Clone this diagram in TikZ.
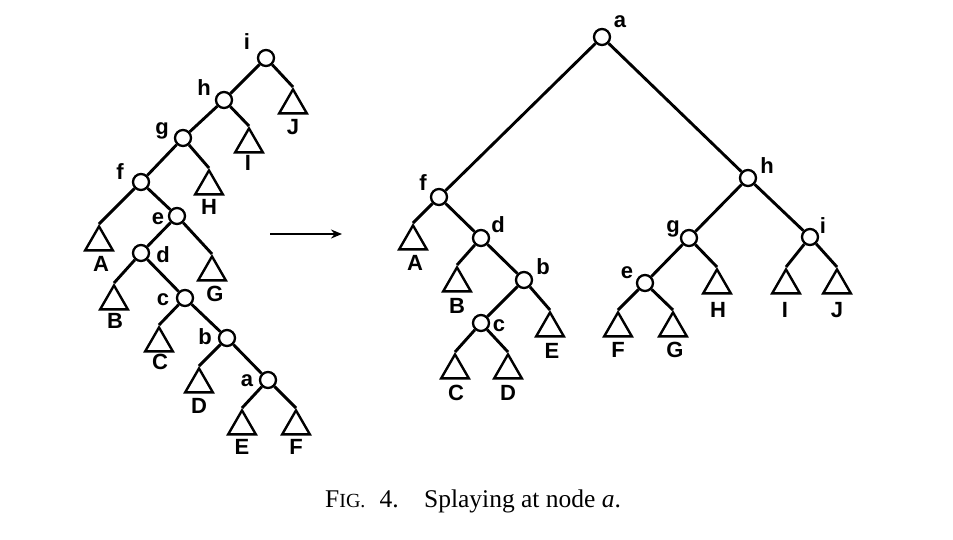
\documentclass[tikz,border=0pt]{standalone}
\usepackage{fontspec}
\setmainfont{Liberation Serif}
\newfontfamily\lblfont{Liberation Sans}
\usetikzlibrary{shapes.geometric,arrows.meta}
\begin{document}
\begin{tikzpicture}[x=1pt,y=-1pt,
  nd/.style={circle,draw,line width=2.3pt,minimum size=16pt,inner sep=0pt},
  tri/.style={regular polygon,regular polygon sides=3,draw,line width=2.4pt,minimum size=32pt,inner sep=0pt,anchor=corner 1},
  lbl/.style={font=\lblfont\bfseries\fontsize{22}{22}\selectfont,inner sep=0pt},
  edge/.style={line width=2.9pt},
]
\useasboundingbox (0,0) rectangle (953,539);

% ---------- left tree ----------
\node[nd] (Li) at (266,58) {};   \node[lbl] (Lli) at (247,42) {i};
\node[nd] (Lh) at (224,100) {};  \node[lbl] (Llh) at (204,88) {h};
\node[nd] (Lg) at (183,138) {};  \node[lbl] (Llg) at (162,131) {g};
\node[nd] (Lf) at (141,182) {};  \node[lbl] (Llf) at (120,172) {f};
\node[nd] (Le) at (177,216) {};  \node[lbl] (Lle) at (158,219) {e};
\node[nd] (Ld) at (141,253) {};  \node[lbl] (Lld) at (163,255) {d};
\node[nd] (Lc) at (185,298) {};  \node[lbl] (Llc) at (163,300) {c};
\node[nd] (Lb) at (227,338) {};  \node[lbl] (Llb) at (205,337) {b};
\node[nd] (La) at (268,380) {};  \node[lbl] (Lla) at (247,381) {a};

\node[tri] (LtJ) at (293,87) {};  \node[lbl] (LlJ) at (293,127) {J};
\node[tri] (LtI) at (249,126) {}; \node[lbl] (LlI) at (248,163) {I};
\node[tri] (LtH) at (209,168) {}; \node[lbl] (LlH) at (209,207) {H};
\node[tri] (LtA) at (99,224) {};  \node[lbl] (LlA) at (101,264) {A};
\node[tri] (LtG) at (212,254) {}; \node[lbl] (LlG) at (215,294) {G};
\node[tri] (LtB) at (114,283) {}; \node[lbl] (LlB) at (115,321) {B};
\node[tri] (LtC) at (159,325) {}; \node[lbl] (LlC) at (160,362) {C};
\node[tri] (LtD) at (199,366) {}; \node[lbl] (LlD) at (199,406) {D};
\node[tri] (LtE) at (242,408) {}; \node[lbl] (LlE) at (242,447) {E};
\node[tri] (LtF) at (296,408) {}; \node[lbl] (LlF) at (296,447) {F};

\draw[edge] (Li) -- (Lh);  \draw[edge] (Li) -- (LtJ.corner 1);
\draw[edge] (Lh) -- (Lg);  \draw[edge] (Lh) -- (LtI.corner 1);
\draw[edge] (Lg) -- (Lf);  \draw[edge] (Lg) -- (LtH.corner 1);
\draw[edge] (Lf) -- (LtA.corner 1); \draw[edge] (Lf) -- (Le);
\draw[edge] (Le) -- (Ld);  \draw[edge] (Le) -- (LtG.corner 1);
\draw[edge] (Ld) -- (LtB.corner 1); \draw[edge] (Ld) -- (Lc);
\draw[edge] (Lc) -- (LtC.corner 1); \draw[edge] (Lc) -- (Lb);
\draw[edge] (Lb) -- (LtD.corner 1); \draw[edge] (Lb) -- (La);
\draw[edge] (La) -- (LtE.corner 1); \draw[edge] (La) -- (LtF.corner 1);

% ---------- arrow ----------
\coordinate (arrS) at (270,234);
\coordinate (arrE) at (342,234);
\draw[line width=2.2pt,-{Stealth[length=11pt,width=9pt]}] (arrS) -- (arrE);

% ---------- right tree ----------
\node[nd] (Ra) at (602,37) {};   \node[lbl] (Rla) at (620,22) {a};
\node[nd] (Rf) at (439,197) {};  \node[lbl] (Rlf) at (423,183) {f};
\node[nd] (Rd) at (481,238) {};  \node[lbl] (Rld) at (498,225) {d};
\node[nd] (Rb) at (524,280) {};  \node[lbl] (Rlb) at (543,267) {b};
\node[nd] (Rc) at (481,323) {};  \node[lbl] (Rlc) at (499,326) {c};
\node[nd] (Rh) at (748,178) {};  \node[lbl] (Rlh) at (767,166) {h};
\node[nd] (Rg) at (689,238) {};  \node[lbl] (Rlg) at (673,229) {g};
\node[nd] (Ri) at (810,237) {};  \node[lbl] (Rli) at (823,226) {i};
\node[nd] (Re) at (645,283) {};  \node[lbl] (Rle) at (627,273) {e};

\node[tri] (RtA) at (413,223) {}; \node[lbl] (RlA) at (415,263) {A};
\node[tri] (RtB) at (457,265) {}; \node[lbl] (RlB) at (457,306) {B};
\node[tri] (RtE) at (550,310) {}; \node[lbl] (RlE) at (552,351) {E};
\node[tri] (RtC) at (455,352) {}; \node[lbl] (RlC) at (456,393) {C};
\node[tri] (RtD) at (508,352) {}; \node[lbl] (RlD) at (508,393) {D};
\node[tri] (RtF) at (618,310) {}; \node[lbl] (RlF) at (618,350) {F};
\node[tri] (RtG) at (673,310) {}; \node[lbl] (RlG) at (675,350) {G};
\node[tri] (RtH) at (717,267) {}; \node[lbl] (RlH) at (718,310) {H};
\node[tri] (RtI) at (786,267) {}; \node[lbl] (RlI) at (785,310) {I};
\node[tri] (RtJ) at (837,267) {}; \node[lbl] (RlJ) at (837,310) {J};

\draw[edge] (Ra) -- (Rf);  \draw[edge] (Ra) -- (Rh);
\draw[edge] (Rf) -- (RtA.corner 1); \draw[edge] (Rf) -- (Rd);
\draw[edge] (Rd) -- (RtB.corner 1); \draw[edge] (Rd) -- (Rb);
\draw[edge] (Rb) -- (Rc);  \draw[edge] (Rb) -- (RtE.corner 1);
\draw[edge] (Rc) -- (RtC.corner 1); \draw[edge] (Rc) -- (RtD.corner 1);
\draw[edge] (Rh) -- (Rg);  \draw[edge] (Rh) -- (Ri);
\draw[edge] (Rg) -- (Re);  \draw[edge] (Rg) -- (RtH.corner 1);
\draw[edge] (Re) -- (RtF.corner 1); \draw[edge] (Re) -- (RtG.corner 1);
\draw[edge] (Ri) -- (RtI.corner 1); \draw[edge] (Ri) -- (RtJ.corner 1);

% ---------- caption ----------
\node[anchor=base west,inner sep=0pt,font=\fontsize{25.5}{25.5}\selectfont] (cap) at (325,507)
  {F{\fontsize{20}{20}\selectfont IG.}\hspace{0.55em}4.\hspace{1em}Splaying at node \textit{a}.};
\end{tikzpicture}
\end{document}
